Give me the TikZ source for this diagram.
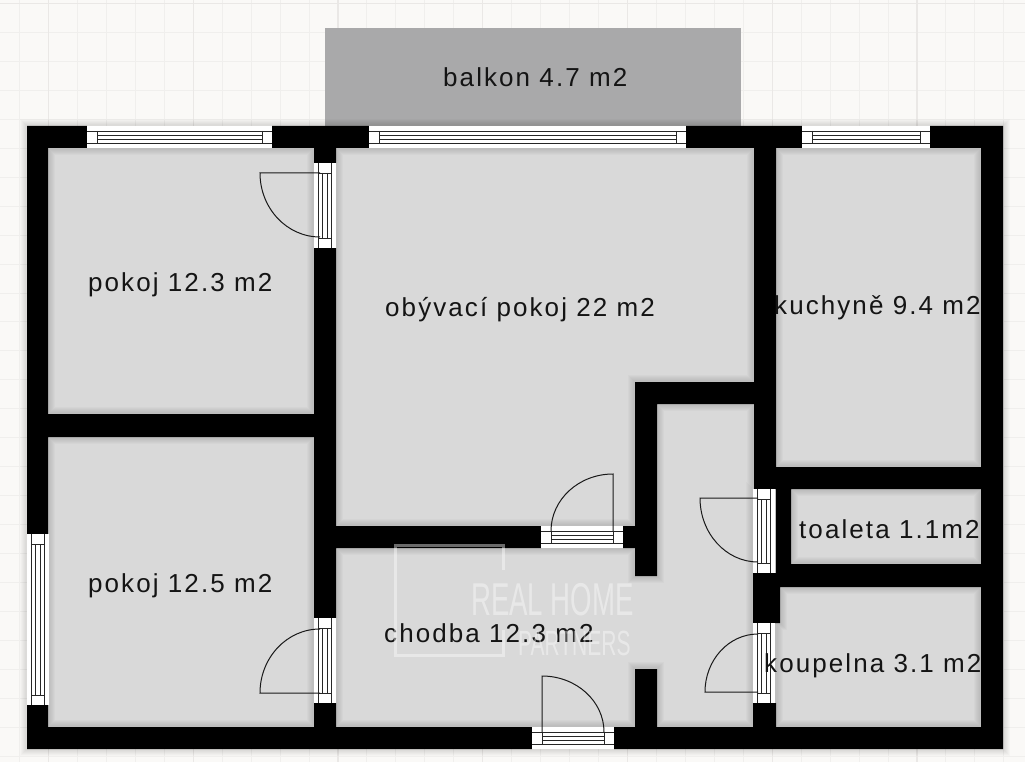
\documentclass[tikz,border=0pt]{standalone}
\usepackage{fontspec}
\usetikzlibrary{calc}
\newfontfamily\labfont[LetterSpace=8]{Liberation Sans}
\newfontfamily\markfont{Liberation Sans}
\definecolor{paper}{HTML}{FAF9F7}
\definecolor{gridminor}{HTML}{F0EFED}
\definecolor{gridmajor}{HTML}{EAE8E6}
\definecolor{floorgray}{HTML}{D9D9D9}
\definecolor{balkongray}{HTML}{A9A9AA}
\definecolor{inktext}{HTML}{141414}
\tikzset{
  roomlabel/.style={anchor=base west,inner sep=0pt,text=inktext,font=\fontsize{26}{26}\selectfont\labfont},
  markline/.style={draw=white,opacity=.42,line width=3pt},
  marktext/.style={inner sep=0pt,text=white,text opacity=.42,anchor=base west},
  winline/.style={draw=black!85,line width=.9pt},
  leafline/.style={draw=black!90,line width=1pt}
}
% all solid walls
\newcommand{\wallrects}{
  (27,126) rectangle (87,148)
  (272,126) rectangle (369,148)
  (686,126) rectangle (802,148)
  (930,126) rectangle (1003,148)
  (27,126) rectangle (48,534)
  (27,705) rectangle (48,749)
  (981,126) rectangle (1003,749)
  (27,727) rectangle (532,749)
  (614,727) rectangle (1003,749)
  (314,148) rectangle (336,163)
  (314,248) rectangle (336,618)
  (314,703) rectangle (336,727)
  (48,414) rectangle (314,437)
  (336,526) rectangle (541,548)
  (623,526) rectangle (657,548)
  (635,382) rectangle (657,576)
  (635,382) rectangle (754,404)
  (754,148) rectangle (776,489)
  (753,573) rectangle (780,623)
  (753,703) rectangle (776,727)
  (776,467) rectangle (981,489)
  (776,489) rectangle (791,565)
  (776,564) rectangle (981,587)
  (635,669) rectangle (657,727)
}
\newcommand{\winrects}{
  (87,126) rectangle (272,148)
  (369,126) rectangle (686,148)
  (802,126) rectangle (930,148)
  (532,727) rectangle (614,749)
  (27,534) rectangle (48,705)
  (314,163) rectangle (336,248)
  (314,618) rectangle (336,703)
  (541,526) rectangle (623,548)
  (753,489) rectangle (776,573)
  (753,623) rectangle (776,703)
}
% horizontal opening: x1, x2, top y
\newcommand{\hwin}[3]{
  \fill[white] (#1,#3) rectangle (#2,#3+22);
  \draw[winline] (#1,#3+5) -- (#2,#3+5) (#1,#3+17) -- (#2,#3+17);
  \draw[winline] (#1+10,#3+9) -- (#2-10,#3+9) (#1+10,#3+13) -- (#2-10,#3+13);
  \draw[winline] (#1+10,#3+5) -- (#1+10,#3+17) (#2-10,#3+5) -- (#2-10,#3+17);
}
% vertical opening: y1, y2, left x
\newcommand{\vwin}[3]{
  \fill[white] (#3,#1) rectangle (#3+22,#2);
  \draw[winline] (#3+4.5,#1) -- (#3+4.5,#2) (#3+17,#1) -- (#3+17,#2);
  \draw[winline] (#3+8.5,#1+10) -- (#3+8.5,#2-10) (#3+13,#1+10) -- (#3+13,#2-10);
  \draw[winline] (#3+4.5,#1+10) -- (#3+17,#1+10) (#3+4.5,#2-10) -- (#3+17,#2-10);
}
% door leaf: leaf tip, hinge, arc end
\newcommand{\leaf}[3]{
  \draw[leafline] (#2) -- (#1) .. controls ($(#1)+0.552*(#3)-0.552*(#2)$) and ($(#3)+0.552*(#1)-0.552*(#2)$) .. (#3);
}
\begin{document}
\begin{tikzpicture}[x=1pt,y=-1pt]
\useasboundingbox (0,0) rectangle (1025,762);
\fill[paper] (0,0) rectangle (1025,762);
% grid
\foreach \k in {0,...,35}{
  \pgfmathsetmacro{\gx}{19.5+28.95*\k}
  \draw[gridminor,line width=1pt] (\gx,0) -- (\gx,762);
}
\foreach \k in {0,...,26}{
  \pgfmathsetmacro{\gy}{3.5+28.95*\k}
  \draw[gridminor,line width=1pt] (0,\gy) -- (1025,\gy);
}
\foreach \k in {0,...,6}{
  \pgfmathsetmacro{\gx}{48.5+144.75*\k}
  \draw[gridmajor,line width=1.2pt] (\gx,0) -- (\gx,762);
}
\draw[gridmajor,line width=1.2pt] (0,3.5) -- (1025,3.5);
% balcony
\fill[balkongray] (325,28) rectangle (741,126);
% floor
\fill[floorgray] (48,148) rectangle (981,727);
% soft wall shadow
\foreach \w in {14,12,10,8,6,4}{
  \draw[black,opacity=.02,line width=\w pt] \wallrects \winrects;
}
% walls
\fill[black] \wallrects;
% windows and door frames
\hwin{87}{272}{126}
\hwin{369}{686}{126}
\hwin{802}{930}{126}
\hwin{532}{614}{727}
\hwin{541}{623}{526}
\vwin{534}{705}{27}
\vwin{163}{248}{314}
\vwin{618}{703}{314}
\vwin{489}{573}{753}
\vwin{623}{703}{753}
% door leaves
\leaf{260,173}{320,173}{320,237}
\leaf{260,693}{320,693}{320,629}
\leaf{613,474}{613,531}{551,531}
\leaf{542,676}{542,732}{604,732}
\leaf{700,498}{758,498}{758,562}
\leaf{705,692}{758,692}{758,634}
% labels
\node[roomlabel] (balkon) at (443,87) {balkon 4.7 m2};
\node[roomlabel] (pokojA) at (88,291) {pokoj 12.3 m2};
\node[roomlabel] (obyvak) at (385,316) {obývací pokoj 22 m2};
\node[roomlabel] (kuchyne) at (774,314) {kuchyně 9.4 m2};
\node[roomlabel] (pokojB) at (88,592) {pokoj 12.5 m2};
\node[roomlabel] (chodba) at (384,642) {chodba 12.3 m2};
\node[roomlabel] (toaleta) at (799,538) {toaleta 1.1m2};
\node[roomlabel] (koupelna) at (764,672) {koupelna 3.1 m2};
% watermark
\draw[markline] (503,570) -- (503,545) -- (395,545) -- (395,655) -- (503,655) -- (503,630);
\node[marktext,xscale=.6] (markA) at (471,615) {\fontsize{46}{46}\selectfont\markfont REAL HOME};
\node[marktext,xscale=.6] (markB) at (518,655) {\fontsize{35}{35}\selectfont\markfont PARTNERS};
\end{tikzpicture}
\end{document}
